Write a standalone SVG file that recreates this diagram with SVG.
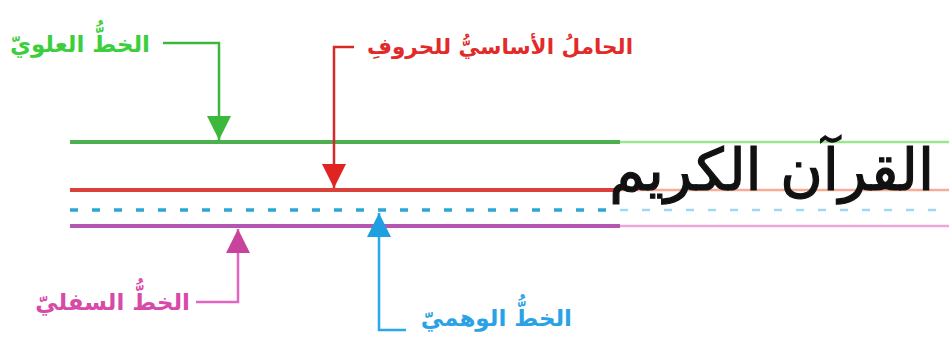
<svg xmlns="http://www.w3.org/2000/svg" width="949" height="342" viewBox="0 0 949 342">
<style>
.lbl{font-family:"DejaVu Sans",sans-serif;font-weight:bold;font-size:23px;text-anchor:end}
.big{font-family:"DejaVu Sans",sans-serif;font-size:58px;text-anchor:end;fill:#111;stroke:#111;stroke-width:1.2}
.con{fill:none;stroke-width:2.5}
</style>
<defs>
<marker id="ag" markerUnits="userSpaceOnUse" markerWidth="26" markerHeight="26" refX="24" refY="12" orient="auto"><path d="M0,0 L24,12 L0,24 Z" fill="#3cb83c"/></marker>
<marker id="ar" markerUnits="userSpaceOnUse" markerWidth="26" markerHeight="26" refX="24" refY="12" orient="auto"><path d="M0,0 L24,12 L0,24 Z" fill="#e02424"/></marker>
<marker id="am" markerUnits="userSpaceOnUse" markerWidth="26" markerHeight="26" refX="24" refY="12" orient="auto"><path d="M0,0 L24,12 L0,24 Z" fill="#c8449c"/></marker>
<marker id="ab" markerUnits="userSpaceOnUse" markerWidth="26" markerHeight="26" refX="24" refY="12" orient="auto"><path d="M0,0 L24,12 L0,24 Z" fill="#1e9fe0"/></marker>
</defs>
<g id="line-top">
<line x1="70" y1="142" x2="620" y2="142" stroke="#4caf50" stroke-width="4"/>
<line x1="620" y1="142" x2="949" y2="142" stroke="#9be68f" stroke-width="2.5"/>
</g>
<g id="line-base">
<line x1="70" y1="190" x2="620" y2="190" stroke="#d9413a" stroke-width="4"/>
<line x1="620" y1="190" x2="949" y2="190" stroke="#f6ad97" stroke-width="2.5"/>
</g>
<g id="line-imag">
<line x1="70" y1="210" x2="620" y2="210" stroke="#2ba6d6" stroke-width="3.5" stroke-dasharray="8 14"/>
<line x1="620" y1="210" x2="949" y2="210" stroke="#9fd8f2" stroke-width="2.5" stroke-dasharray="8 14"/>
</g>
<g id="line-bottom">
<line x1="70" y1="226" x2="620" y2="226" stroke="#b456b4" stroke-width="4"/>
<line x1="620" y1="226" x2="949" y2="226" stroke="#eea6da" stroke-width="2.5"/>
</g>
<g id="word">
<text class="big" x="934" y="190">القرآن الكريم</text>
</g>
<g id="label-top"><text class="lbl" x="150" y="52" fill="#3ccf3c">الخطُّ العلويّ</text></g>
<g id="label-base"><text class="lbl" x="633" y="54" fill="#e32a2a" style="font-size:21.5px">الحاملُ الأساسيُّ للحروفِ</text></g>
<g id="label-bottom"><text class="lbl" x="190" y="310" fill="#d84aa8">الخطُّ السفليّ</text></g>
<g id="label-imag"><text class="lbl" x="572" y="326" fill="#2aa2e6">الخطُّ الوهميّ</text></g>
<g id="connectors">
<path class="con" d="M163,43 H219 V140" stroke="#3cb83c" marker-end="url(#ag)"/>
<path class="con" d="M354,47 H334 V188" stroke="#d62a2a" marker-end="url(#ar)"/>
<path class="con" d="M196,302 H238 V229" stroke="#e066c0" marker-end="url(#am)"/>
<path class="con" d="M406,330 H379 V213" stroke="#2aa8ee" marker-end="url(#ab)"/>
</g>
</svg>
